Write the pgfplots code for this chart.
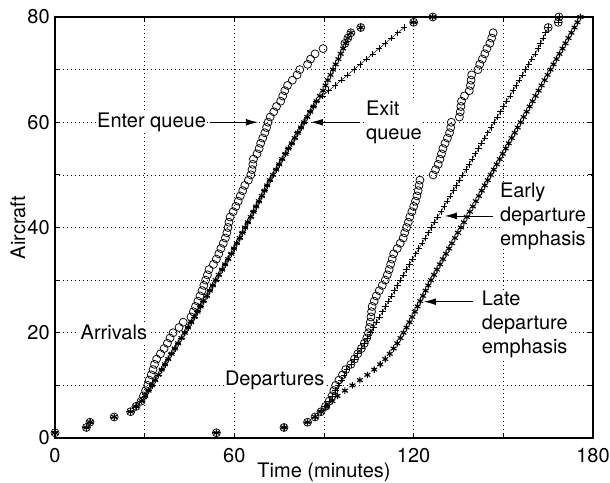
\documentclass[border=0pt]{standalone}
\usepackage{pgfplots}
\pgfplotsset{compat=1.18}
\usepackage{pgfplotstable}
\usetikzlibrary{arrows.meta}
\usepackage{fontspec}
\setmainfont{TeX Gyre Heros}

% Arrivals: n, enter queue, exit queue (late dep. emphasis), exit queue (early dep. emphasis)
\pgfplotstableread{
n enter exitL exitE
1 0 0 0
2 10.5 10.5 10.5
3 11.7 11.7 11.7
4 19.8 19.8 19.8
5 25.3 25.3 25.3
6 27.1 27.1 27.1
7 28.8 29.0 29.0
8 29.6 30.2 30.2
9 30.3 31.3 31.3
10 31.0 32.4 32.4
11 31.5 33.5 33.5
12 32.2 34.6 34.6
13 32.8 35.7 35.7
14 33.3 36.8 36.8
15 34.0 37.9 37.9
16 35.3 39.0 39.0
17 36.5 40.1 40.1
18 37.6 41.2 41.2
19 38.5 42.3 42.3
20 39.5 43.4 43.4
21 41.5 44.5 44.5
22 42.9 45.6 45.6
23 45.5 46.7 46.7
24 46.3 47.7 47.7
25 47.0 48.7 48.7
26 47.8 49.7 49.7
27 48.5 50.8 50.8
28 49.2 51.8 51.8
29 49.8 52.8 52.8
30 50.4 53.8 53.8
31 51.0 54.8 54.8
32 51.5 55.9 55.9
33 53.0 56.9 56.9
34 54.0 57.9 57.9
35 54.8 59.0 59.0
36 55.5 59.9 59.9
37 56.3 60.8 60.8
38 57.0 61.8 61.8
39 57.5 62.7 62.7
40 57.9 63.6 63.6
41 58.2 64.5 64.5
42 58.6 65.5 65.5
43 59.6 66.4 66.4
44 60.5 67.3 67.3
45 61.3 68.2 68.2
46 62.0 69.2 69.2
47 62.8 70.1 70.1
48 63.5 71.0 71.0
49 64.7 71.9 71.9
50 65.5 72.9 72.9
51 65.9 74.0 74.0
52 66.2 75.0 75.0
53 66.4 76.0 76.0
54 67.6 77.1 77.1
55 68.3 78.1 78.1
56 68.8 79.2 79.2
57 69.5 80.2 80.2
58 70.2 81.2 81.2
59 70.8 82.3 82.3
60 71.3 83.3 83.3
61 72.0 84.4 84.4
62 73.2 85.4 85.4
63 74.1 86.5 86.5
64 75.5 87.5 87.5
65 76.2 88.6 89.5
66 76.9 89.7 91.6
67 77.8 90.5 93.7
68 79.4 91.3 95.8
69 81.0 92.2 97.9
70 81.9 93.0 100.0
71 84.5 93.9 102.1
72 85.5 94.8 104.2
73 87.0 95.6 106.3
74 89.7 96.4 108.4
75 97.0 97.2 110.5
76 98.0 98.0 112.6
77 99.0 99.0 114.7
78 102.3 102.3 116.8
79 120.0 120.0 120.0
80 126.4 126.4 126.4
}\arrivals

% Departures: n, enter queue, early departure emphasis, late departure emphasis
\pgfplotstableread{
n enter early late
1 54.0 54.0 54.0
2 76.6 76.6 76.6
3 84.5 84.5 84.5
4 87.0 87.0 87.0
5 89.0 89.0 89.0
6 90.5 90.5 91.0
7 91.7 91.7 92.8
8 92.7 92.8 94.5
9 93.3 93.8 97.0
10 93.9 94.8 99.5
11 95.0 95.8 102.0
12 96.2 96.7 104.5
13 97.3 97.6 106.8
14 99.0 99.0 108.8
15 100.2 100.2 110.5
16 101.3 101.3 112.0
17 102.5 102.5 113.3
18 103.5 103.6 114.5
19 104.3 104.6 115.6
20 104.9 105.6 116.6
21 105.2 106.6 117.6
22 105.5 107.6 118.6
23 105.7 108.6 119.5
24 105.9 109.6 120.4
25 106.1 110.6 121.3
26 106.8 111.6 122.2
27 107.5 112.6 123.1
28 108.5 113.6 124.0
29 109.5 114.6 124.9
30 110.5 115.6 125.8
31 111.2 116.6 126.8
32 111.8 117.6 127.8
33 112.3 118.6 128.8
34 112.8 119.6 129.8
35 113.3 120.7 130.8
36 114.5 121.7 131.8
37 115.5 122.8 132.8
38 116.5 123.8 133.8
39 117.0 124.9 134.8
40 117.6 125.9 135.8
41 118.2 127.0 136.8
42 118.7 128.0 137.8
43 119.4 129.1 138.8
44 120.0 130.1 139.8
45 120.6 131.2 140.8
46 121.1 132.2 141.8
47 121.5 133.3 142.8
48 121.8 134.3 143.8
49 122.1 135.4 144.8
50 126.5 136.4 145.8
51 127.3 137.5 146.8
52 128.2 138.5 147.8
53 128.8 139.6 148.8
54 129.3 140.6 149.8
55 129.8 141.7 150.8
56 130.5 142.7 151.8
57 131.3 143.8 152.8
58 132.0 144.8 153.8
59 132.4 145.9 154.8
60 132.6 146.9 155.8
61 135.3 148.0 156.8
62 135.6 149.0 157.8
63 135.8 150.1 158.8
64 136.0 151.1 159.8
65 137.0 152.2 160.8
66 138.6 153.2 161.8
67 139.0 154.3 162.8
68 139.2 155.3 163.8
69 139.4 156.4 164.8
70 141.5 157.4 165.8
71 142.1 158.5 166.8
72 143.0 159.5 167.8
73 143.8 160.6 168.8
74 144.5 161.6 169.8
75 145.5 162.5 170.8
76 146.1 163.3 171.8
77 146.6 164.1 172.8
78 165.0 165.0 173.8
79 168.4 168.4 174.8
80 168.6 168.6 175.8
}\departures

\begin{document}
\begin{tikzpicture}[font=\fontsize{15}{18}\selectfont]
\begin{axis}[
  scale only axis,
  width=403.5pt, height=315.75pt,
  xmin=0, xmax=180, ymin=0, ymax=80,
  xtick={0,30,...,180},
  xticklabels={0,,60,,120,,180},
  ytick={0,10,...,80},
  yticklabels={0,,20,,40,,60,,80},
  /pgf/number format/assume math mode=true,
  tick align=inside,
  major tick length=3.75pt,
  tick style={black, line width=0.6pt},
  axis line style={black, line width=1.1pt},
  grid=major,
  major grid style={black, line width=0.5pt, dash pattern=on 0.6pt off 2.4pt},
  xticklabel style={anchor=north, inner sep=0pt, yshift=-7.5pt},
  yticklabel style={anchor=east, inner sep=0pt, xshift=-3.75pt},
  xlabel={Time (minutes)},
  ylabel={Aircraft},
  every axis x label/.style={at={(axis description cs:0.5,0)}, anchor=center, yshift=-26pt},
  every axis y label/.style={at={(axis description cs:0,0.5)}, anchor=center, xshift=-27.75pt, rotate=90},
  clip=false,
]
% Arrivals
\addplot[only marks, mark=o, mark size=3pt, black, line width=0.55pt] table[x=enter, y=n] {\arrivals};
\addplot[black, line width=0.35pt, no marks, restrict y to domain=6:78] table[x=exitE, y=n] {\arrivals};
\addplot[only marks, black, mark=+, mark size=2.4pt, mark options={line width=0.5pt}] table[x=exitE, y=n] {\arrivals};
\addplot[only marks, black, mark=asterisk, mark size=2.5pt, mark options={line width=0.85pt}] table[x=exitL, y=n] {\arrivals};
% Departures
\addplot[only marks, mark=o, mark size=3pt, black, line width=0.55pt] table[x=enter, y=n] {\departures};
\addplot[black, line width=0.35pt, no marks, restrict y to domain=6:78] table[x=early, y=n] {\departures};
\addplot[only marks, black, mark=+, mark size=2.4pt, mark options={line width=0.5pt}] table[x=early, y=n] {\departures};
\addplot[only marks, black, mark=asterisk, mark size=2.5pt, mark options={line width=0.85pt}] table[x=late, y=n] {\departures};

% Annotations
\node[fill=white, inner sep=1pt] at (axis cs:32.3,60) {Enter queue};
\draw[-{Latex[length=9pt,width=5pt]}, line width=0.6pt] (axis cs:52,60) -- (axis cs:67.9,60);
\node[anchor=west, align=left, inner sep=0pt, fill=white] at (axis cs:104,60) {Exit\\queue};
\draw[-{Latex[length=9pt,width=5pt]}, line width=0.6pt] (axis cs:102,60) -- (axis cs:85.6,60);
\node[anchor=west, align=left, inner sep=0pt, fill=white] at (axis cs:148.8,42.2) {Early\\departure\\emphasis};
\draw[-{Latex[length=9pt,width=5pt]}, line width=0.6pt] (axis cs:146.5,42.2) -- (axis cs:130.4,42.2);
\node[anchor=west, align=left, inner sep=0pt, fill=white] at (axis cs:142.7,21.5) {Late\\departure\\emphasis};
\draw[-{Latex[length=9pt,width=5pt]}, line width=0.6pt] (axis cs:139.8,25.9) -- (axis cs:123.4,25.9);
\node[fill=white, inner sep=1pt] at (axis cs:19.7,20) {Arrivals};
\node[fill=white, inner sep=1pt] at (axis cs:73.5,11) {Departures};
\end{axis}
\pgfresetboundingbox
\path[use as bounding box] ([shift={(-41.25pt,-33pt)}]current axis.south west) rectangle ([shift={(12.75pt,12.75pt)}]current axis.north east);
\end{tikzpicture}
\end{document}
